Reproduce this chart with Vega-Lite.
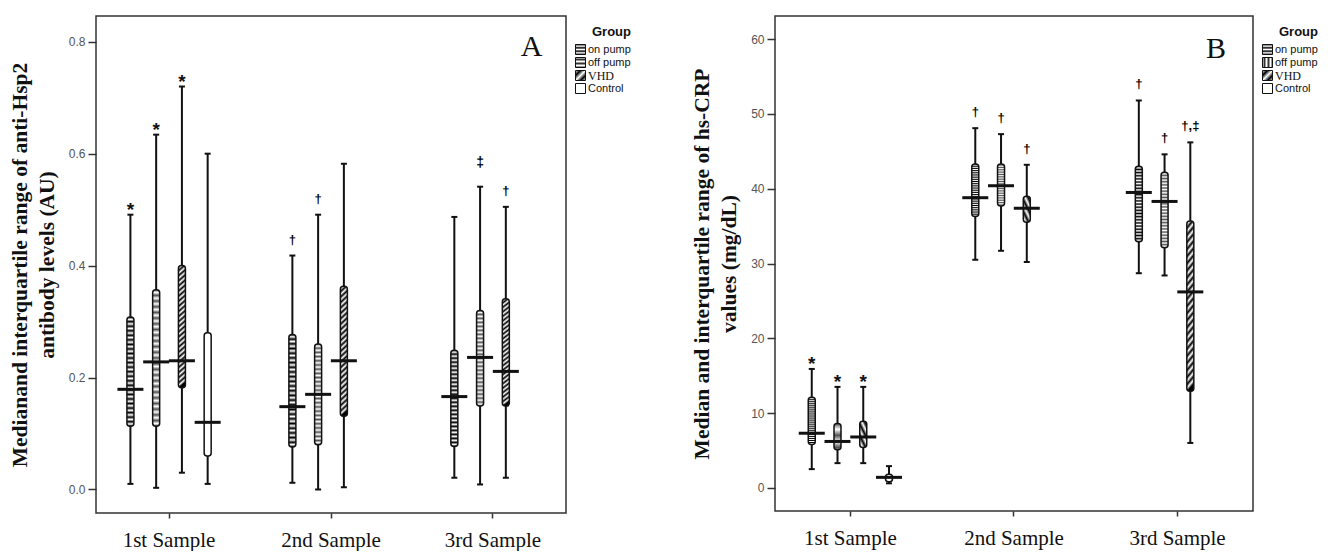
{
"$schema":"https://vega.github.io/schema/vega-lite/v6.json",
"padding":{"left":8,"top":15,"right":0,"bottom":0},
"spacing":48,
"resolve":{"scale":{"fill":"independent"},"legend":{"fill":"independent"}},
"config":{
 "view":{"stroke":"#333","strokeWidth":1.5},
 "legend":{"titleFont":"Liberation Sans","titleFontSize":13,"titleFontWeight":"bold","titleColor":"#111","titleAnchor":"end","labelFont":"Liberation Sans","labelFontSize":11,"labelColor":"#111","symbolType":"square","symbolSize":100,"symbolStrokeColor":"#111","symbolStrokeWidth":1,"symbolOpacity":1,"rowPadding":-2,"offset":-1,"titlePadding":5,"labelOffset":2,"padding":10},
 "axisY":{"titleFont":"Liberation Serif","titleFontSize":21.5,"titleFontWeight":"bold","titleColor":"#111","titlePadding":10,"titleLineHeight":27,"labelFont":"Liberation Sans","labelFontSize":12,"labelColor":"#555","tickSize":8,"tickColor":"#333","tickWidth":1.5,"labelPadding":3,"domain":false,"grid":false},
 "axisX":{"labelFont":"Liberation Serif","labelFontSize":21,"labelColor":"#111","labelPadding":11,"tickSize":5,"tickColor":"#333","tickWidth":1.5,"domain":false,"grid":false,"labelAngle":0}
},
"datasets":{
 "hsp":[
  {"sample":"1st Sample","group":"on pump","lo":0.010,"q1":0.113,"med":0.179,"q3":0.308,"hi":0.491,"sig":"*"},
  {"sample":"1st Sample","group":"off pump","lo":0.003,"q1":0.113,"med":0.228,"q3":0.357,"hi":0.634,"sig":"*"},
  {"sample":"1st Sample","group":"VHD","lo":0.030,"q1":0.182,"med":0.230,"q3":0.400,"hi":0.720,"sig":"*"},
  {"sample":"1st Sample","group":"Control","lo":0.010,"q1":0.060,"med":0.120,"q3":0.280,"hi":0.600,"sig":""},
  {"sample":"2nd Sample","group":"on pump","lo":0.012,"q1":0.076,"med":0.148,"q3":0.277,"hi":0.418,"sig":"†"},
  {"sample":"2nd Sample","group":"off pump","lo":0.000,"q1":0.080,"med":0.170,"q3":0.260,"hi":0.491,"sig":"†"},
  {"sample":"2nd Sample","group":"VHD","lo":0.004,"q1":0.131,"med":0.230,"q3":0.363,"hi":0.582,"sig":""},
  {"sample":"3rd Sample","group":"on pump","lo":0.021,"q1":0.077,"med":0.166,"q3":0.249,"hi":0.487,"sig":""},
  {"sample":"3rd Sample","group":"off pump","lo":0.009,"q1":0.149,"med":0.236,"q3":0.320,"hi":0.541,"sig":"‡"},
  {"sample":"3rd Sample","group":"VHD","lo":0.021,"q1":0.149,"med":0.211,"q3":0.341,"hi":0.505,"sig":"†"}
 ],
 "crp":[
  {"sample":"1st Sample","group":"on pump","lo":2.5,"q1":5.8,"med":7.3,"q3":12.1,"hi":15.9,"sig":"*"},
  {"sample":"1st Sample","group":"off pump","lo":3.3,"q1":5.1,"med":6.2,"q3":8.6,"hi":13.5,"sig":"*"},
  {"sample":"1st Sample","group":"VHD","lo":3.3,"q1":5.4,"med":6.8,"q3":8.9,"hi":13.5,"sig":"*"},
  {"sample":"1st Sample","group":"Control","lo":0.6,"q1":0.8,"med":1.4,"q3":1.8,"hi":2.9,"sig":""},
  {"sample":"2nd Sample","group":"on pump","lo":30.5,"q1":36.3,"med":38.8,"q3":43.3,"hi":48.1,"sig":"†"},
  {"sample":"2nd Sample","group":"off pump","lo":31.7,"q1":37.7,"med":40.4,"q3":43.3,"hi":47.3,"sig":"†"},
  {"sample":"2nd Sample","group":"VHD","lo":30.2,"q1":35.5,"med":37.4,"q3":39.0,"hi":43.2,"sig":"†"},
  {"sample":"3rd Sample","group":"on pump","lo":28.7,"q1":32.9,"med":39.5,"q3":43.0,"hi":51.8,"sig":"†"},
  {"sample":"3rd Sample","group":"off pump","lo":28.4,"q1":32.1,"med":38.3,"q3":42.2,"hi":44.6,"sig":"†"},
  {"sample":"3rd Sample","group":"VHD","lo":6.0,"q1":12.9,"med":26.2,"q3":35.7,"hi":46.2,"sig":"†,‡"}
 ],
 "tagA":[{"sample":"3rd Sample","group":"Control","pos":0.79,"tag":"A"}],
 "tagB":[{"sample":"3rd Sample","group":"Control","pos":58.7,"tag":"B"}]
},
"hconcat":[
 {
  "width":470,"height":497,
  "data":{"name":"hsp"},
  "encoding":{
   "x":{"field":"sample","type":"nominal","title":null,"scale":{"paddingInner":0.364,"paddingOuter":0.133}},
   "xOffset":{"field":"group","type":"nominal","scale":{"domain":["on pump","off pump","VHD","Control"],"paddingInner":0,"paddingOuter":0}}
  },
  "layer":[
   {"mark":{"type":"rule","color":"#111","strokeWidth":2},"encoding":{"y":{"field":"lo","type":"quantitative","scale":{"domain":[-0.042,0.846],"nice":false,"zero":false},"axis":{"title":["Medianand interquartile range of anti-Hsp2","antibody levels (AU)"],"values":[0,0.2,0.4,0.6,0.8],"format":".1f"}},"y2":{"field":"hi"}}},
   {"mark":{"type":"tick","color":"#111","opacity":1,"size":6,"thickness":2},"encoding":{"y":{"field":"hi","type":"quantitative"}}},
   {"mark":{"type":"tick","color":"#111","opacity":1,"size":6,"thickness":2},"encoding":{"y":{"field":"lo","type":"quantitative"}}},
   {"mark":{"type":"bar","width":7,"stroke":"#111","strokeWidth":1.5,"cornerRadius":3},"encoding":{"y":{"field":"q1","type":"quantitative"},"y2":{"field":"q3"},
     "fill":{"condition":[
      {"test":"datum.group === 'on pump'","value":{"gradient":"linear","x1":0,"y1":0,"x2":0,"y2":1,"stops":[{"offset":0,"color":"#000"},{"offset":0.0208,"color":"#fff"},{"offset":0.0417,"color":"#000"},{"offset":0.0625,"color":"#fff"},{"offset":0.0833,"color":"#000"},{"offset":0.1042,"color":"#fff"},{"offset":0.125,"color":"#000"},{"offset":0.1458,"color":"#fff"},{"offset":0.1667,"color":"#000"},{"offset":0.1875,"color":"#fff"},{"offset":0.2083,"color":"#000"},{"offset":0.2292,"color":"#fff"},{"offset":0.25,"color":"#000"},{"offset":0.2708,"color":"#fff"},{"offset":0.2917,"color":"#000"},{"offset":0.3125,"color":"#fff"},{"offset":0.3333,"color":"#000"},{"offset":0.3542,"color":"#fff"},{"offset":0.375,"color":"#000"},{"offset":0.3958,"color":"#fff"},{"offset":0.4167,"color":"#000"},{"offset":0.4375,"color":"#fff"},{"offset":0.4583,"color":"#000"},{"offset":0.4792,"color":"#fff"},{"offset":0.5,"color":"#000"},{"offset":0.5208,"color":"#fff"},{"offset":0.5417,"color":"#000"},{"offset":0.5625,"color":"#fff"},{"offset":0.5833,"color":"#000"},{"offset":0.6042,"color":"#fff"},{"offset":0.625,"color":"#000"},{"offset":0.6458,"color":"#fff"},{"offset":0.6667,"color":"#000"},{"offset":0.6875,"color":"#fff"},{"offset":0.7083,"color":"#000"},{"offset":0.7292,"color":"#fff"},{"offset":0.75,"color":"#000"},{"offset":0.7708,"color":"#fff"},{"offset":0.7917,"color":"#000"},{"offset":0.8125,"color":"#fff"},{"offset":0.8333,"color":"#000"},{"offset":0.8542,"color":"#fff"},{"offset":0.875,"color":"#000"},{"offset":0.8958,"color":"#fff"},{"offset":0.9167,"color":"#000"},{"offset":0.9375,"color":"#fff"},{"offset":0.9583,"color":"#000"},{"offset":0.9792,"color":"#fff"},{"offset":1,"color":"#000"}]}},
      {"test":"datum.group === 'off pump'","value":{"gradient":"linear","x1":0,"y1":0,"x2":0,"y2":1,"stops":[{"offset":0,"color":"#555"},{"offset":0.0208,"color":"#fff"},{"offset":0.0417,"color":"#555"},{"offset":0.0625,"color":"#fff"},{"offset":0.0833,"color":"#555"},{"offset":0.1042,"color":"#fff"},{"offset":0.125,"color":"#555"},{"offset":0.1458,"color":"#fff"},{"offset":0.1667,"color":"#555"},{"offset":0.1875,"color":"#fff"},{"offset":0.2083,"color":"#555"},{"offset":0.2292,"color":"#fff"},{"offset":0.25,"color":"#555"},{"offset":0.2708,"color":"#fff"},{"offset":0.2917,"color":"#555"},{"offset":0.3125,"color":"#fff"},{"offset":0.3333,"color":"#555"},{"offset":0.3542,"color":"#fff"},{"offset":0.375,"color":"#555"},{"offset":0.3958,"color":"#fff"},{"offset":0.4167,"color":"#555"},{"offset":0.4375,"color":"#fff"},{"offset":0.4583,"color":"#555"},{"offset":0.4792,"color":"#fff"},{"offset":0.5,"color":"#555"},{"offset":0.5208,"color":"#fff"},{"offset":0.5417,"color":"#555"},{"offset":0.5625,"color":"#fff"},{"offset":0.5833,"color":"#555"},{"offset":0.6042,"color":"#fff"},{"offset":0.625,"color":"#555"},{"offset":0.6458,"color":"#fff"},{"offset":0.6667,"color":"#555"},{"offset":0.6875,"color":"#fff"},{"offset":0.7083,"color":"#555"},{"offset":0.7292,"color":"#fff"},{"offset":0.75,"color":"#555"},{"offset":0.7708,"color":"#fff"},{"offset":0.7917,"color":"#555"},{"offset":0.8125,"color":"#fff"},{"offset":0.8333,"color":"#555"},{"offset":0.8542,"color":"#fff"},{"offset":0.875,"color":"#555"},{"offset":0.8958,"color":"#fff"},{"offset":0.9167,"color":"#555"},{"offset":0.9375,"color":"#fff"},{"offset":0.9583,"color":"#555"},{"offset":0.9792,"color":"#fff"},{"offset":1,"color":"#555"}]}},
      {"test":"datum.group === 'VHD'","value":{"gradient":"linear","x1":0,"y1":0,"x2":0.05,"y2":1,"stops":[{"offset":0,"color":"#000"},{"offset":0.0208,"color":"#fff"},{"offset":0.0417,"color":"#000"},{"offset":0.0625,"color":"#fff"},{"offset":0.0833,"color":"#000"},{"offset":0.1042,"color":"#fff"},{"offset":0.125,"color":"#000"},{"offset":0.1458,"color":"#fff"},{"offset":0.1667,"color":"#000"},{"offset":0.1875,"color":"#fff"},{"offset":0.2083,"color":"#000"},{"offset":0.2292,"color":"#fff"},{"offset":0.25,"color":"#000"},{"offset":0.2708,"color":"#fff"},{"offset":0.2917,"color":"#000"},{"offset":0.3125,"color":"#fff"},{"offset":0.3333,"color":"#000"},{"offset":0.3542,"color":"#fff"},{"offset":0.375,"color":"#000"},{"offset":0.3958,"color":"#fff"},{"offset":0.4167,"color":"#000"},{"offset":0.4375,"color":"#fff"},{"offset":0.4583,"color":"#000"},{"offset":0.4792,"color":"#fff"},{"offset":0.5,"color":"#000"},{"offset":0.5208,"color":"#fff"},{"offset":0.5417,"color":"#000"},{"offset":0.5625,"color":"#fff"},{"offset":0.5833,"color":"#000"},{"offset":0.6042,"color":"#fff"},{"offset":0.625,"color":"#000"},{"offset":0.6458,"color":"#fff"},{"offset":0.6667,"color":"#000"},{"offset":0.6875,"color":"#fff"},{"offset":0.7083,"color":"#000"},{"offset":0.7292,"color":"#fff"},{"offset":0.75,"color":"#000"},{"offset":0.7708,"color":"#fff"},{"offset":0.7917,"color":"#000"},{"offset":0.8125,"color":"#fff"},{"offset":0.8333,"color":"#000"},{"offset":0.8542,"color":"#fff"},{"offset":0.875,"color":"#000"},{"offset":0.8958,"color":"#fff"},{"offset":0.9167,"color":"#000"},{"offset":0.9375,"color":"#fff"},{"offset":0.9583,"color":"#000"},{"offset":0.9792,"color":"#fff"},{"offset":1,"color":"#000"}]}}
     ],"value":"#ffffff"}}},
   {"mark":{"type":"point","shape":"square","filled":true,"opacity":0},"encoding":{"y":{"field":"med","type":"quantitative"},
     "fill":{"field":"group","type":"nominal","scale":{"domain":["on pump","off pump","VHD","Control"],"range":[
        {"expr":"{gradient: 'linear', x1: 0, y1: 0, x2: 0, y2: 1, stops: [{offset: 0, color: '#000'}, {offset: 0.17, color: '#fff'}, {offset: 0.33, color: '#000'}, {offset: 0.5, color: '#fff'}, {offset: 0.67, color: '#000'}, {offset: 0.83, color: '#fff'}, {offset: 1, color: '#000'}]}"},
        {"expr":"{gradient: 'linear', x1: 0, y1: 0, x2: 0, y2: 1, stops: [{offset: 0, color: '#fff'}, {offset: 0.2, color: '#333'}, {offset: 0.4, color: '#fff'}, {offset: 0.6, color: '#333'}, {offset: 0.8, color: '#fff'}, {offset: 1, color: '#333'}]}"},
        {"expr":"{gradient: 'linear', x1: 0, y1: 0, x2: 1, y2: 1, stops: [{offset: 0, color: '#fff'}, {offset: 0.25, color: '#000'}, {offset: 0.5, color: '#fff'}, {offset: 0.75, color: '#000'}, {offset: 1, color: '#fff'}]}"},
        "#ffffff"]},
      "legend":{"title":"Group","symbolOpacity":1,"encode":{
        "symbols":{"update":{"opacity":{"value":1},"stroke":{"value":"#111"},"strokeWidth":{"value":1}}},
        "labels":{"update":{"font":{"signal":"datum.value === 'VHD' ? 'Liberation Serif' : 'Liberation Sans'"},"fontSize":{"signal":"datum.value === 'VHD' ? 12 : 11"}}}}}}}},
   {"mark":{"type":"tick","color":"#111","opacity":1,"size":26,"thickness":3},"encoding":{"y":{"field":"med","type":"quantitative"}}},
   {"transform":[{"filter":"datum.sig === '*'"}],"mark":{"type":"text","font":"Liberation Sans","fontSize":19,"fontWeight":"bold","baseline":"middle","dy":-5,"color":"#111"},"encoding":{"y":{"field":"hi","type":"quantitative"},"text":{"field":"sig"}}},
   {"transform":[{"filter":"datum.sig === '†' || datum.sig === '†,‡'"}],"mark":{"type":"text","font":"Liberation Sans","fontSize":13,"fontWeight":"bold","baseline":"middle","dy":-16,"color":"#000"},"encoding":{"y":{"field":"hi","type":"quantitative"},"text":{"field":"sig"}}},
   {"transform":[{"filter":"datum.sig === '‡'"}],"mark":{"type":"text","font":"Liberation Sans","fontSize":14,"fontWeight":"bold","baseline":"middle","dy":-24,"color":"#000"},"encoding":{"y":{"field":"hi","type":"quantitative"},"text":{"field":"sig"}}},
   {"data":{"name":"tagA"},"mark":{"type":"text","font":"Liberation Serif","fontSize":30,"color":"#111"},"encoding":{"y":{"field":"pos","type":"quantitative"},"text":{"field":"tag"}}}
  ]
 },
 {
  "width":478,"height":495,
  "data":{"name":"crp"},
  "encoding":{
   "x":{"field":"sample","type":"nominal","title":null,"scale":{"paddingInner":0.369,"paddingOuter":0.146}},
   "xOffset":{"field":"group","type":"nominal","scale":{"domain":["on pump","off pump","VHD","Control"],"paddingInner":0,"paddingOuter":0}}
  },
  "layer":[
   {"mark":{"type":"rule","color":"#111","strokeWidth":2},"encoding":{"y":{"field":"lo","type":"quantitative","scale":{"domain":[-3.1,63.1],"nice":false,"zero":false},"axis":{"title":["Median and interquartile range of hs-CRP","values (mg/dL)"],"values":[0,10,20,30,40,50,60],"format":"d"}},"y2":{"field":"hi"}}},
   {"mark":{"type":"tick","color":"#111","opacity":1,"size":6,"thickness":2},"encoding":{"y":{"field":"hi","type":"quantitative"}}},
   {"mark":{"type":"tick","color":"#111","opacity":1,"size":6,"thickness":2},"encoding":{"y":{"field":"lo","type":"quantitative"}}},
   {"mark":{"type":"bar","width":7,"stroke":"#111","strokeWidth":1.5,"cornerRadius":3},"encoding":{"y":{"field":"q1","type":"quantitative"},"y2":{"field":"q3"},
     "fill":{"condition":[
      {"test":"datum.group === 'on pump'","value":{"gradient":"linear","x1":0,"y1":0,"x2":0,"y2":1,"stops":[{"offset":0,"color":"#000"},{"offset":0.0208,"color":"#fff"},{"offset":0.0417,"color":"#000"},{"offset":0.0625,"color":"#fff"},{"offset":0.0833,"color":"#000"},{"offset":0.1042,"color":"#fff"},{"offset":0.125,"color":"#000"},{"offset":0.1458,"color":"#fff"},{"offset":0.1667,"color":"#000"},{"offset":0.1875,"color":"#fff"},{"offset":0.2083,"color":"#000"},{"offset":0.2292,"color":"#fff"},{"offset":0.25,"color":"#000"},{"offset":0.2708,"color":"#fff"},{"offset":0.2917,"color":"#000"},{"offset":0.3125,"color":"#fff"},{"offset":0.3333,"color":"#000"},{"offset":0.3542,"color":"#fff"},{"offset":0.375,"color":"#000"},{"offset":0.3958,"color":"#fff"},{"offset":0.4167,"color":"#000"},{"offset":0.4375,"color":"#fff"},{"offset":0.4583,"color":"#000"},{"offset":0.4792,"color":"#fff"},{"offset":0.5,"color":"#000"},{"offset":0.5208,"color":"#fff"},{"offset":0.5417,"color":"#000"},{"offset":0.5625,"color":"#fff"},{"offset":0.5833,"color":"#000"},{"offset":0.6042,"color":"#fff"},{"offset":0.625,"color":"#000"},{"offset":0.6458,"color":"#fff"},{"offset":0.6667,"color":"#000"},{"offset":0.6875,"color":"#fff"},{"offset":0.7083,"color":"#000"},{"offset":0.7292,"color":"#fff"},{"offset":0.75,"color":"#000"},{"offset":0.7708,"color":"#fff"},{"offset":0.7917,"color":"#000"},{"offset":0.8125,"color":"#fff"},{"offset":0.8333,"color":"#000"},{"offset":0.8542,"color":"#fff"},{"offset":0.875,"color":"#000"},{"offset":0.8958,"color":"#fff"},{"offset":0.9167,"color":"#000"},{"offset":0.9375,"color":"#fff"},{"offset":0.9583,"color":"#000"},{"offset":0.9792,"color":"#fff"},{"offset":1,"color":"#000"}]}},
      {"test":"datum.group === 'off pump'","value":{"gradient":"linear","x1":0,"y1":0,"x2":0,"y2":1,"stops":[{"offset":0,"color":"#555"},{"offset":0.0208,"color":"#fff"},{"offset":0.0417,"color":"#555"},{"offset":0.0625,"color":"#fff"},{"offset":0.0833,"color":"#555"},{"offset":0.1042,"color":"#fff"},{"offset":0.125,"color":"#555"},{"offset":0.1458,"color":"#fff"},{"offset":0.1667,"color":"#555"},{"offset":0.1875,"color":"#fff"},{"offset":0.2083,"color":"#555"},{"offset":0.2292,"color":"#fff"},{"offset":0.25,"color":"#555"},{"offset":0.2708,"color":"#fff"},{"offset":0.2917,"color":"#555"},{"offset":0.3125,"color":"#fff"},{"offset":0.3333,"color":"#555"},{"offset":0.3542,"color":"#fff"},{"offset":0.375,"color":"#555"},{"offset":0.3958,"color":"#fff"},{"offset":0.4167,"color":"#555"},{"offset":0.4375,"color":"#fff"},{"offset":0.4583,"color":"#555"},{"offset":0.4792,"color":"#fff"},{"offset":0.5,"color":"#555"},{"offset":0.5208,"color":"#fff"},{"offset":0.5417,"color":"#555"},{"offset":0.5625,"color":"#fff"},{"offset":0.5833,"color":"#555"},{"offset":0.6042,"color":"#fff"},{"offset":0.625,"color":"#555"},{"offset":0.6458,"color":"#fff"},{"offset":0.6667,"color":"#555"},{"offset":0.6875,"color":"#fff"},{"offset":0.7083,"color":"#555"},{"offset":0.7292,"color":"#fff"},{"offset":0.75,"color":"#555"},{"offset":0.7708,"color":"#fff"},{"offset":0.7917,"color":"#555"},{"offset":0.8125,"color":"#fff"},{"offset":0.8333,"color":"#555"},{"offset":0.8542,"color":"#fff"},{"offset":0.875,"color":"#555"},{"offset":0.8958,"color":"#fff"},{"offset":0.9167,"color":"#555"},{"offset":0.9375,"color":"#fff"},{"offset":0.9583,"color":"#555"},{"offset":0.9792,"color":"#fff"},{"offset":1,"color":"#555"}]}},
      {"test":"datum.group === 'VHD'","value":{"gradient":"linear","x1":0,"y1":0,"x2":0.05,"y2":1,"stops":[{"offset":0,"color":"#000"},{"offset":0.0208,"color":"#fff"},{"offset":0.0417,"color":"#000"},{"offset":0.0625,"color":"#fff"},{"offset":0.0833,"color":"#000"},{"offset":0.1042,"color":"#fff"},{"offset":0.125,"color":"#000"},{"offset":0.1458,"color":"#fff"},{"offset":0.1667,"color":"#000"},{"offset":0.1875,"color":"#fff"},{"offset":0.2083,"color":"#000"},{"offset":0.2292,"color":"#fff"},{"offset":0.25,"color":"#000"},{"offset":0.2708,"color":"#fff"},{"offset":0.2917,"color":"#000"},{"offset":0.3125,"color":"#fff"},{"offset":0.3333,"color":"#000"},{"offset":0.3542,"color":"#fff"},{"offset":0.375,"color":"#000"},{"offset":0.3958,"color":"#fff"},{"offset":0.4167,"color":"#000"},{"offset":0.4375,"color":"#fff"},{"offset":0.4583,"color":"#000"},{"offset":0.4792,"color":"#fff"},{"offset":0.5,"color":"#000"},{"offset":0.5208,"color":"#fff"},{"offset":0.5417,"color":"#000"},{"offset":0.5625,"color":"#fff"},{"offset":0.5833,"color":"#000"},{"offset":0.6042,"color":"#fff"},{"offset":0.625,"color":"#000"},{"offset":0.6458,"color":"#fff"},{"offset":0.6667,"color":"#000"},{"offset":0.6875,"color":"#fff"},{"offset":0.7083,"color":"#000"},{"offset":0.7292,"color":"#fff"},{"offset":0.75,"color":"#000"},{"offset":0.7708,"color":"#fff"},{"offset":0.7917,"color":"#000"},{"offset":0.8125,"color":"#fff"},{"offset":0.8333,"color":"#000"},{"offset":0.8542,"color":"#fff"},{"offset":0.875,"color":"#000"},{"offset":0.8958,"color":"#fff"},{"offset":0.9167,"color":"#000"},{"offset":0.9375,"color":"#fff"},{"offset":0.9583,"color":"#000"},{"offset":0.9792,"color":"#fff"},{"offset":1,"color":"#000"}]}}
     ],"value":"#ffffff"}}},
   {"mark":{"type":"point","shape":"square","filled":true,"opacity":0},"encoding":{"y":{"field":"med","type":"quantitative"},
     "fill":{"field":"group","type":"nominal","scale":{"domain":["on pump","off pump","VHD","Control"],"range":[
        {"expr":"{gradient: 'linear', x1: 0, y1: 0, x2: 0, y2: 1, stops: [{offset: 0, color: '#000'}, {offset: 0.17, color: '#fff'}, {offset: 0.33, color: '#000'}, {offset: 0.5, color: '#fff'}, {offset: 0.67, color: '#000'}, {offset: 0.83, color: '#fff'}, {offset: 1, color: '#000'}]}"},
        {"expr":"{gradient: 'linear', x1: 0, y1: 0, x2: 1, y2: 0, stops: [{offset: 0, color: '#fff'}, {offset: 0.2, color: '#333'}, {offset: 0.4, color: '#fff'}, {offset: 0.6, color: '#333'}, {offset: 0.8, color: '#fff'}, {offset: 1, color: '#333'}]}"},
        {"expr":"{gradient: 'linear', x1: 0, y1: 0, x2: 1, y2: 1, stops: [{offset: 0, color: '#fff'}, {offset: 0.25, color: '#000'}, {offset: 0.5, color: '#fff'}, {offset: 0.75, color: '#000'}, {offset: 1, color: '#fff'}]}"},
        "#ffffff"]},
      "legend":{"title":"Group","symbolOpacity":1,"encode":{
        "symbols":{"update":{"opacity":{"value":1},"stroke":{"value":"#111"},"strokeWidth":{"value":1}}},
        "labels":{"update":{"font":{"signal":"datum.value === 'VHD' ? 'Liberation Serif' : 'Liberation Sans'"},"fontSize":{"signal":"datum.value === 'VHD' ? 12 : 11"}}}}}}}},
   {"mark":{"type":"tick","color":"#111","opacity":1,"size":26,"thickness":3},"encoding":{"y":{"field":"med","type":"quantitative"}}},
   {"transform":[{"filter":"datum.sig === '*'"}],"mark":{"type":"text","font":"Liberation Sans","fontSize":19,"fontWeight":"bold","baseline":"middle","dy":-5,"color":"#111"},"encoding":{"y":{"field":"hi","type":"quantitative"},"text":{"field":"sig"}}},
   {"transform":[{"filter":"datum.sig === '†' || datum.sig === '†,‡'"}],"mark":{"type":"text","font":"Liberation Sans","fontSize":13,"fontWeight":"bold","baseline":"middle","dy":-16,"color":"#000"},"encoding":{"y":{"field":"hi","type":"quantitative"},"text":{"field":"sig"}}},
   {"data":{"name":"tagB"},"mark":{"type":"text","font":"Liberation Serif","fontSize":30,"color":"#111"},"encoding":{"y":{"field":"pos","type":"quantitative"},"text":{"field":"tag"}}}
  ]
 }
]
}
